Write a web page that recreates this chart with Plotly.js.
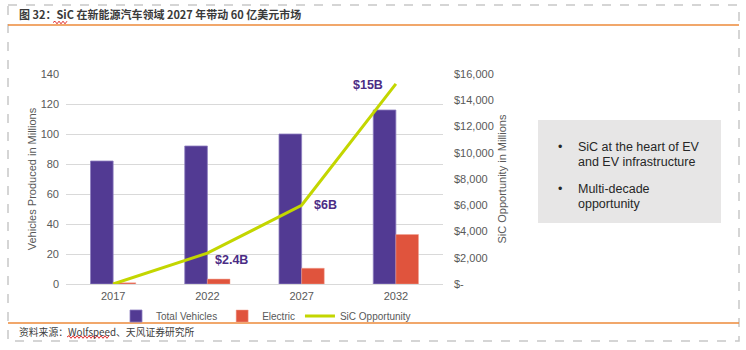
<!DOCTYPE html>
<html>
<head>
<meta charset="utf-8">
<script src="https://cdn.plot.ly/plotly-3.0.1.min.js"></script>
<style>
html,body{margin:0;padding:0;background:#fff;}
#chart{width:746px;height:350px;}
</style>
</head>
<body>
<div id="chart"></div>
<script>
// ---- data ----
const years = ['2017', '2022', '2027', '2032'];
const totalVehicles = [82, 92, 100, 116];
const electricVehicles = [0.8, 3.3, 10.5, 33];
const sicOpportunity = [0, 2350, 6000, 15250];
const sicLabels = ['$2.4B', '$6B', '$15B'];
const leftTicks = [0, 20, 40, 60, 80, 100, 120, 140];
const rightTickVals = [0, 2000, 4000, 6000, 8000, 10000, 12000, 14000, 16000];
const rightTickText = ['$-', '$2,000', '$4,000', '$6,000', '$8,000', '$10,000', '$12,000', '$14,000', '$16,000'];
const bulletLines = [['SiC at the heart of EV', 'and EV infrastructure'], ['Multi-decade', 'opportunity']];
const titleText = '图 32：SiC 在新能源汽车领域 2027 年带动 60 亿美元市场';
const sourceText = '资料来源：Wolfspeed、天风证券研究所';

// ---- layout geometry (pixels) ----
const W = 746, H = 350;
const M = {l: 66, r: 303, t: 74, b: 66};
const PW = W - M.l - M.r, PH = H - M.t - M.b;
const px = v => (v - M.l) / PW;
const py = v => (H - M.b - v) / PH;

const latin = 'Liberation Sans, Arial, sans-serif';
const cjk = '"Noto Sans CJK SC", "Liberation Sans", sans-serif';
const grey = '#595959';

const traces = [
  {type: 'bar', name: 'Total Vehicles', x: years, y: totalVehicles,
   marker: {color: '#523A93', line: {color: '#8E7FBF', width: 0.8}}, yaxis: 'y'},
  {type: 'bar', name: 'Electric', x: years, y: electricVehicles,
   marker: {color: '#E0543D', line: {color: '#F2A090', width: 0.5}}, yaxis: 'y'},
  {type: 'scatter', mode: 'lines', name: 'SiC Opportunity', x: years, y: sicOpportunity,
   line: {color: '#C3D600', width: 3}, yaxis: 'y2'}
];

const labelFont = {family: latin, size: 12.5, color: '#4B2C85'};
const annotations = [
  {xref: 'paper', yref: 'paper', x: px(17), y: py(14), xanchor: 'left', yanchor: 'middle',
   text: '<b>' + titleText + '</b>', showarrow: false, font: {family: cjk, size: 11, color: '#3a3a3a'}},
  {xref: 'paper', yref: 'paper', x: px(17), y: py(332), xanchor: 'left', yanchor: 'middle',
   text: sourceText, showarrow: false, font: {family: cjk, size: 9.8, color: '#404040'}},
  // value labels on the SiC line (x given as category index)
  {xref: 'x', yref: 'y2', x: 1, y: sicOpportunity[1], xanchor: 'left', yanchor: 'middle',
   xshift: 6, yshift: -7, text: '<b>' + sicLabels[0] + '</b>', showarrow: false, font: labelFont},
  {xref: 'x', yref: 'y2', x: 2, y: sicOpportunity[2], xanchor: 'left', yanchor: 'middle',
   xshift: 10, yshift: 0, text: '<b>' + sicLabels[1] + '</b>', showarrow: false, font: labelFont},
  {xref: 'x', yref: 'y2', x: 3, y: sicOpportunity[3], xanchor: 'right', yanchor: 'middle',
   xshift: -11, yshift: -1, text: '<b>' + sicLabels[2] + '</b>', showarrow: false, font: labelFont}
];

// bullet box text
const lineY = [[147, 162], [189, 204]];
bulletLines.forEach((grp, i) => {
  annotations.push({xref: 'paper', yref: 'paper', x: px(560), y: py(lineY[i][0]), xanchor: 'center', yanchor: 'middle',
    text: '•', showarrow: false, font: {family: latin, size: 12.5, color: '#262626'}});
  grp.forEach((t, j) => {
    annotations.push({xref: 'paper', yref: 'paper', x: px(576), y: py(lineY[i][j]), xanchor: 'left', yanchor: 'middle',
      text: t, showarrow: false, font: {family: latin, size: 12.5, color: '#262626'}});
  });
});

function squiggle(x0, x1, yc) {
  let d = 'M' + px(x0) + ',' + py(yc);
  let up = true;
  for (let x = x0 + 2; x <= x1; x += 2) {
    d += ' L' + px(x) + ',' + py(yc + (up ? -1.3 : 1.3));
    up = !up;
  }
  return {type: 'path', xref: 'paper', yref: 'paper', path: d, line: {color: '#E03030', width: 1}};
}

const shapes = [
  {type: 'rect', xref: 'paper', yref: 'paper', x0: px(8), x1: px(739), y0: py(5), y1: py(341),
   line: {color: '#C8C8C8', width: 1.5, dash: 'dash'}, fillcolor: 'rgba(0,0,0,0)'},
  {type: 'line', xref: 'paper', yref: 'paper', x0: px(8), x1: px(739), y0: py(25), y1: py(25),
   line: {color: '#EC8A3A', width: 1.5}},
  {type: 'line', xref: 'paper', yref: 'paper', x0: px(8), x1: px(739), y0: py(323), y1: py(323),
   line: {color: '#EC8A3A', width: 1.5}},
  {type: 'rect', xref: 'paper', yref: 'paper', x0: px(538), x1: px(721), y0: py(120), y1: py(223),
   line: {width: 0}, fillcolor: '#E7E6E6', layer: 'below'},
  squiggle(53, 68, 22.5),
  squiggle(67, 110, 337)
];

const layout = {
  width: W, height: H,
  margin: M,
  paper_bgcolor: '#ffffff', plot_bgcolor: '#ffffff',
  font: {family: latin, size: 11, color: grey},
  barmode: 'group', bargap: 0.52, bargroupgap: 0,
  showlegend: true,
  legend: {orientation: 'h', x: px(266), xanchor: 'center', y: py(316), yanchor: 'middle',
           font: {family: latin, size: 10, color: grey}, itemwidth: 30, tracegroupgap: 0, bgcolor: 'rgba(0,0,0,0)'},
  xaxis: {type: 'category', categoryorder: 'array', categoryarray: years, range: [-0.5, 3.5], autorange: false,
          showgrid: false, showline: false, zeroline: false, ticks: '', ticklabelstandoff: 4,
          tickfont: {family: latin, size: 11, color: grey}},
  yaxis: {range: [0, 140], autorange: false, tickvals: leftTicks, showgrid: true, gridcolor: '#D9D9D9', gridwidth: 1,
          zeroline: true, zerolinecolor: '#D9D9D9', zerolinewidth: 1, showline: false, ticks: '',
          ticklabelstandoff: 6,
          tickfont: {family: latin, size: 11, color: grey},
          title: {text: 'Vehicles Produced in Millions', font: {family: latin, size: 11, color: grey}, standoff: 1}},
  yaxis2: {range: [0, 16000], autorange: false, overlaying: 'y', side: 'right', tickvals: rightTickVals, ticktext: rightTickText,
           showgrid: false, zeroline: false, showline: false, ticks: '', ticklabelstandoff: 10,
           tickfont: {family: latin, size: 11, color: grey},
           title: {text: 'SiC Opportunity in Millions', font: {family: latin, size: 11, color: grey}, standoff: 5}},
  annotations: annotations,
  shapes: shapes
};

Plotly.newPlot('chart', traces, layout, {displayModeBar: false, staticPlot: true});
</script>
</body>
</html>
